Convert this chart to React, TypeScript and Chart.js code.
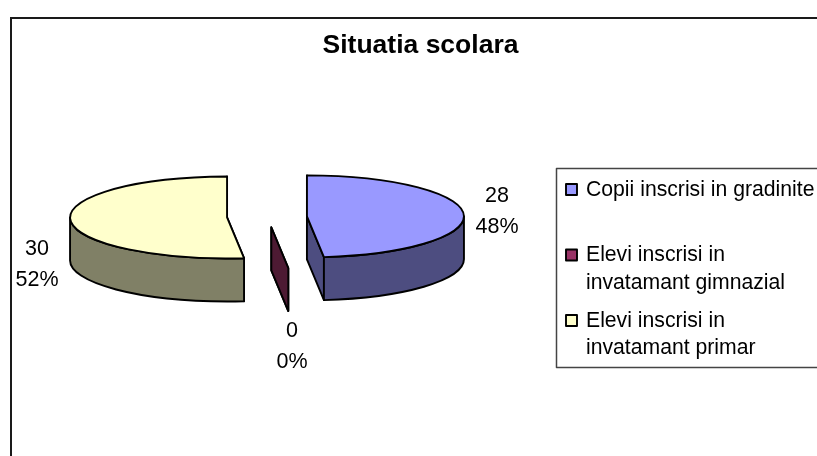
import React, { useEffect, useRef } from "react";
import { Chart, registerables } from "chart.js";

Chart.register(...registerables);

const categories: (string | string[])[] = [
  "Copii inscrisi in gradinite",
  ["Elevi inscrisi in", "invatamant gimnazial"],
  ["Elevi inscrisi in", "invatamant primar"],
];
const values = [28, 0, 30];
const topColors = ["#9999FF", "#993366", "#FFFFCC"];
const sideColors = ["#4D4D80", "#4D1A33", "#808066"];
const chartTitle = "Situatia scolara";

const FONT = "'Liberation Sans', Arial, sans-serif";
const SQUASH = 41 / 157;
const DEPTH = 43;
const EXPLODE = 40;
const LABEL_OFFSETS = [[230, -5], [25, 130], [-230, 48]];
const LABEL_FONT = 21.5;
const LEGEND_FONT = 21.2;

const pie3d = {
  id: "pie3d",
  afterLayout(chart: any) {
    // centre the title on the whole frame rather than on the pie's area
    chart.titleBlock.left = 0;
    chart.titleBlock.right = chart.width;
  },
  beforeDraw(chart: any) {
    const { ctx } = chart;
    ctx.save();
    ctx.fillStyle = "#FFFFFF";
    ctx.fillRect(0, 0, chart.width, chart.height);
    ctx.strokeStyle = "#1a1a1a";
    ctx.lineWidth = 2;
    ctx.strokeRect(11, 18, chart.width - 22, chart.height - 10);
    ctx.restore();
  },
  beforeDatasetsDraw(chart: any) {
    const { ctx } = chart;
    const arcs = chart.getDatasetMeta(0).data;
    const total = values.reduce((a, b) => a + b, 0);
    ctx.save();
    ctx.lineWidth = 1.9;
    ctx.strokeStyle = "#000";
    ctx.lineJoin = "round";
    arcs.forEach((arc: any, i: number) => {
      const { x, y, startAngle, endAngle, outerRadius: r } = arc.getProps(
        ["x", "y", "startAngle", "endAngle", "outerRadius"],
        true
      );
      const mid = (startAngle + endAngle) / 2;
      const cx = x + Math.cos(mid) * EXPLODE;
      const cy = y + Math.sin(mid) * EXPLODE * SQUASH;
      const ry = r * SQUASH;
      const px = (a: number) => cx + r * Math.cos(a);
      const py = (a: number) => cy + ry * Math.sin(a);
      const radialWall = (a: number) => {
        ctx.beginPath();
        ctx.moveTo(cx, cy);
        ctx.lineTo(px(a), py(a));
        ctx.lineTo(px(a), py(a) + DEPTH);
        ctx.lineTo(cx, cy + DEPTH);
        ctx.closePath();
        ctx.fillStyle = sideColors[i];
        ctx.fill();
        ctx.stroke();
      };
      radialWall(startAngle);
      radialWall(endAngle);
      const a0 = Math.max(startAngle, 0);
      const a1 = Math.min(endAngle, Math.PI);
      if (a1 > a0) {
        ctx.beginPath();
        ctx.ellipse(cx, cy, r, ry, 0, a0, a1);
        ctx.lineTo(px(a1), py(a1) + DEPTH);
        ctx.ellipse(cx, cy + DEPTH, r, ry, 0, a1, a0, true);
        ctx.closePath();
        ctx.fillStyle = sideColors[i];
        ctx.fill();
        ctx.stroke();
      }
      if (endAngle > startAngle) {
        ctx.beginPath();
        ctx.moveTo(cx, cy);
        ctx.ellipse(cx, cy, r, ry, 0, startAngle, endAngle);
        ctx.closePath();
        ctx.fillStyle = topColors[i];
        ctx.fill();
        ctx.stroke();
      }
    });
    ctx.fillStyle = "#000";
    ctx.font = `${LABEL_FONT}px ${FONT}`;
    ctx.textAlign = "center";
    ctx.textBaseline = "middle";
    arcs.forEach((arc: any, i: number) => {
      const lx = arc.x + LABEL_OFFSETS[i][0];
      const ly = arc.y + LABEL_OFFSETS[i][1];
      ctx.fillText(String(values[i]), lx, ly - 15.5);
      ctx.fillText(`${Math.round((values[i] / total) * 100)}%`, lx, ly + 15.5);
    });
    // legend
    ctx.strokeStyle = "#444";
    ctx.lineWidth = 1.5;
    ctx.fillStyle = "#fff";
    ctx.fillRect(556.5, 168.5, 300, 199);
    ctx.strokeRect(556.5, 168.5, 300, 199);
    ctx.font = `${LEGEND_FONT}px ${FONT}`;
    ctx.textAlign = "left";
    let ly = 190;
    categories.forEach((label, i) => {
      const lines = Array.isArray(label) ? label : [label];
      ctx.fillStyle = topColors[i];
      ctx.fillRect(566, ly - 6, 11, 11);
      ctx.strokeStyle = "#000";
      ctx.lineWidth = 1.9;
      ctx.strokeRect(566, ly - 6, 11, 11);
      ctx.fillStyle = "#000";
      lines.forEach((t, k) => ctx.fillText(t, 586, ly + k * 27.5));
      ly += i === 0 ? 65.5 : 65.5;
    });
    ctx.restore();
    return false;
  },
};

export default function App() {
  const ref = useRef<HTMLCanvasElement>(null);
  useEffect(() => {
    const chart = new Chart(ref.current as HTMLCanvasElement, {
      type: "pie",
      data: {
        labels: categories as any,
        datasets: [{ data: values, backgroundColor: topColors, borderColor: "#000", radius: 157 } as any],
      },
      options: {
        animation: false,
        responsive: false,
        rotation: 0,
        layout: { padding: { left: 90, right: 397, top: 0, bottom: 108 } },
        plugins: {
          legend: { display: false },
          tooltip: { enabled: false },
          title: {
            display: true,
            text: chartTitle,
            color: "#000",
            font: { family: FONT, size: 26.5, weight: "bold" },
            padding: { top: 30, bottom: 0 },
          },
        },
      } as any,
      plugins: [pie3d as any],
    });
    return () => chart.destroy();
  }, []);
  return (
    <div style={{ position: "fixed", left: 0, top: 0, width: 817, height: 456, overflow: "hidden", background: "#fff" }}>
      <canvas ref={ref} width={841} height={480} style={{ display: "block", width: 841, height: 480 }} />
    </div>
  );
}
